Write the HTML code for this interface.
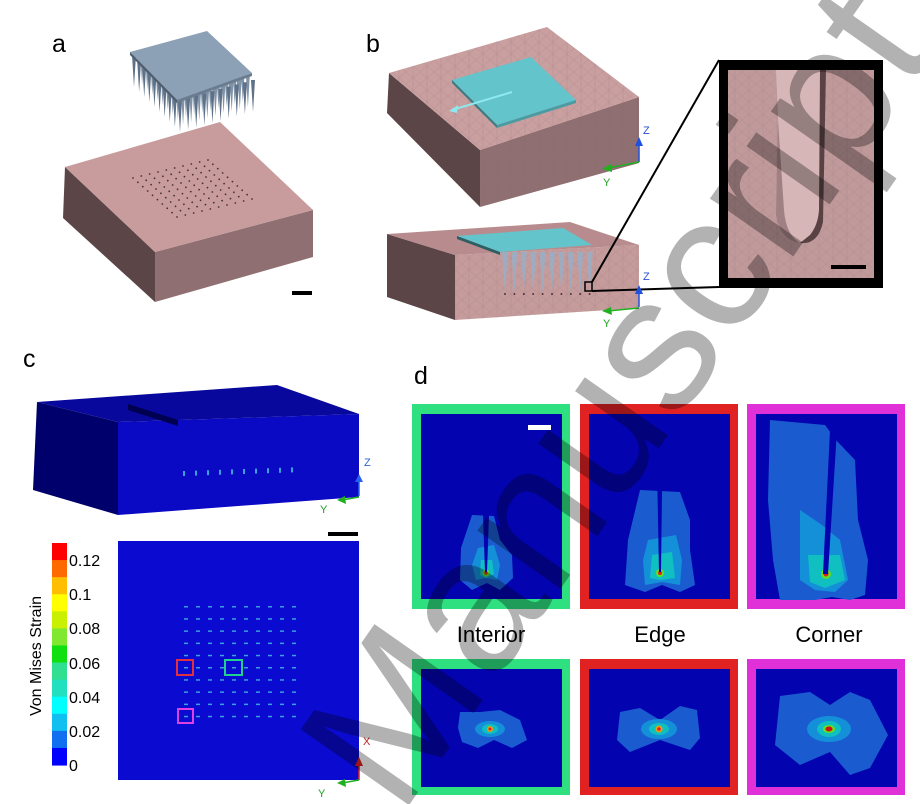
<!DOCTYPE html>
<html><head><meta charset="utf-8"><style>
html,body{margin:0;padding:0;background:#fff;width:920px;height:804px;overflow:hidden}
svg{display:block;overflow:hidden}
text{font-family:"Liberation Sans",sans-serif}
</style></head><body>
<svg id="s" width="920" height="804" viewBox="0 0 920 804" xmlns="http://www.w3.org/2000/svg">
<defs>
<pattern id="mesh" width="14" height="12" patternUnits="userSpaceOnUse">
<path d="M0 0L14 12M14 0L0 12M7 0L7 12" stroke="#8a6a6c" stroke-width="0.3" opacity="0.5"/>
</pattern>
<clipPath id="cl"><rect x="0" y="0" width="920" height="804"/></clipPath>
</defs>
<text x="52" y="52" font-size="25">a</text>
<text x="366" y="52" font-size="25">b</text>
<text x="23" y="367" font-size="25">c</text>
<text x="414" y="384" font-size="25">d</text>

<g id="aneedles"></g>
<polygon points="130,52 207,31 252,73 177,100" fill="#8ca0b6"/>
<polygon points="130,52 177,100 177,103 130,55" fill="#4f5e6e"/>
<polygon points="177,100 252,73 252,76 177,103" fill="#6a7c90"/>
<polygon points="65,167 155,252 155,302 63,218" fill="#5b4547"/>
<polygon points="155,252 313,210 313,257 155,302" fill="#8f6f71"/>
<polygon points="65,167 220,122 313,210 155,252" fill="#c89c9d"/>
<g id="aholes"></g>
<rect x="292" y="291" width="20" height="4" fill="#000"/>

<polygon points="389,73 480,150 480,207 387,113" fill="#5b4547"/>
<polygon points="480,150 639,97 639,163 480,207" fill="#8f6f71"/>
<polygon points="480,150 639,97 639,163 480,207" fill="url(#mesh)"/>
<polygon points="389,73 547,27 639,97 480,150" fill="#c99fa0"/>
<polygon points="389,73 547,27 639,97 480,150" fill="url(#mesh)"/>
<polygon points="452,80 531,57 576,100 497,125" fill="#63c4cc"/>
<polygon points="452,80 497,125 497,128 452,83" fill="#3d7a80"/>
<polygon points="497,125 576,100 576,103 497,128" fill="#4a9ba2"/>
<line x1="512" y1="92" x2="452" y2="110" stroke="#8ee8ee" stroke-width="2"/>
<polygon points="449,111 458,105 457,113" fill="#8ee8ee"/>
<line x1="639" y1="162" x2="639" y2="142" stroke="#2050e0" stroke-width="1.5"/>
<polygon points="635,146 639,137 643,146" fill="#2050e0"/>
<line x1="639" y1="162" x2="608" y2="168" stroke="#20b020" stroke-width="1.5"/>
<polygon points="611,164 602,169 612,172" fill="#20b020"/>
<text x="643" y="134" font-size="11" fill="#2a50d0">Z</text>
<text x="603" y="186" font-size="11" fill="#20a020">Y</text>

<polygon points="387,234 455,255 455,320 387,297" fill="#5b4547"/>
<polygon points="455,255 639,245 639,308 455,320" fill="#c59b9c"/>
<polygon points="455,255 639,245 639,308 455,320" fill="url(#mesh)"/>
<polygon points="387,234 570,222 639,245 455,255" fill="#b88c8e"/>
<polygon points="457,236 563,228 592,245 500,252" fill="#63c4cc"/>
<polygon points="457,236 500,252 500,255 457,239" fill="#2f5e62"/>
<g id="bneedles"></g>
<rect x="585" y="282" width="7" height="9" fill="none" stroke="#000" stroke-width="1.5"/>
<line x1="592" y1="282" x2="719" y2="60" stroke="#000" stroke-width="2"/>
<line x1="592" y1="291" x2="719" y2="287" stroke="#000" stroke-width="2"/>
<line x1="639" y1="307" x2="639" y2="290" stroke="#2050e0" stroke-width="1.5"/>
<polygon points="635,294 639,285 643,294" fill="#2050e0"/>
<line x1="639" y1="308" x2="608" y2="311" stroke="#20b020" stroke-width="1.5"/>
<polygon points="611,307 602,311 612,315" fill="#20b020"/>
<text x="643" y="280" font-size="11" fill="#2a50d0">Z</text>
<text x="603" y="327" font-size="11" fill="#20a020">Y</text>

<rect x="719" y="60" width="164" height="228" fill="#000"/>
<rect x="728" y="70" width="146" height="208" fill="#c09a9b"/>
<rect x="728" y="70" width="146" height="208" fill="url(#mesh)"/>
<path d="M776 70 L824 70 L822 215 Q818 245 800 243 Q784 240 782 215 Z" fill="#d7b6b7"/>
<path d="M820 70 L826 70 L823 222 Q818 245 800 243 L810 235 Q818 225 819 210 Z" fill="#5a4244"/>
<path d="M778 120 L784 210 Q786 235 800 243 Q780 240 776 215 Z" fill="#a08082"/>
<rect x="831" y="265" width="35" height="4" fill="#000"/>

<polygon points="37,402 118,422 118,515 33,490" fill="#00006c"/>
<polygon points="118,422 359,414 359,497 118,515" fill="#0a0ac4"/>
<polygon points="37,402 277,385 359,414 118,422" fill="#08089c"/>
<polygon points="128,404 178,420 178,426 128,410" fill="#000050"/>
<g id="crow"></g>
<line x1="359" y1="496" x2="359" y2="478" stroke="#2a60f0" stroke-width="1.5"/>
<polygon points="355,482 359,474 363,482" fill="#2a60f0"/>
<line x1="359" y1="497" x2="342" y2="500" stroke="#20b020" stroke-width="1.5"/>
<polygon points="345,496 337,500 346,504" fill="#20b020"/>
<text x="364" y="466" font-size="11" fill="#3060d0">Z</text>
<text x="320" y="513" font-size="11" fill="#20a020">Y</text>
<rect x="328" y="532" width="30" height="4" fill="#000"/>

<g id="cbar"></g>
<g font-size="16" fill="#000">
<text x="69" y="566">0.12</text>
<text x="69" y="600">0.1</text>
<text x="69" y="634">0.08</text>
<text x="69" y="669">0.06</text>
<text x="69" y="703">0.04</text>
<text x="69" y="737">0.02</text>
<text x="69" y="771">0</text>
</g>
<text transform="translate(41,656) rotate(-90)" text-anchor="middle" font-size="16">Von Mises Strain</text>

<rect x="118" y="541" width="241" height="239" fill="#0a0ad0"/>
<g id="cgrid"></g>
<rect x="177" y="660" width="16" height="15" fill="none" stroke="#e03040" stroke-width="2"/>
<rect x="225" y="660" width="17" height="15" fill="none" stroke="#20d090" stroke-width="2"/>
<rect x="178" y="709" width="15" height="14" fill="none" stroke="#e040e0" stroke-width="2"/>
<line x1="359" y1="780" x2="359" y2="762" stroke="#e02020" stroke-width="1.5"/>
<polygon points="355,766 359,757 363,766" fill="#e02020"/>
<line x1="359" y1="780" x2="342" y2="783" stroke="#20b020" stroke-width="1.5"/>
<polygon points="345,779 337,783 346,787" fill="#20b020"/>
<text x="363" y="745" font-size="11" fill="#c02020">X</text>
<text x="318" y="797" font-size="11" fill="#20a020">Y</text>

<rect x="412" y="404" width="158" height="205" fill="#2ee080"/>
<rect x="421" y="414" width="141" height="185" fill="#0303b0"/>
<rect x="580" y="404" width="158" height="205" fill="#e02222"/>
<rect x="589" y="414" width="141" height="185" fill="#0303b0"/>
<rect x="747" y="404" width="158" height="205" fill="#e030d8"/>
<rect x="756" y="414" width="141" height="185" fill="#0303b0"/>
<rect x="412" y="659" width="158" height="136" fill="#2ee080"/>
<rect x="421" y="669" width="141" height="118" fill="#0303b0"/>
<rect x="580" y="659" width="158" height="136" fill="#e02222"/>
<rect x="589" y="669" width="141" height="118" fill="#0303b0"/>
<rect x="747" y="659" width="158" height="136" fill="#e030d8"/>
<rect x="756" y="669" width="141" height="118" fill="#0303b0"/>
<rect x="528" y="425" width="23" height="5" fill="#fff"/>

<path d="M472 515 L494 516 L500 540 L512 555 L513 578 L500 590 L487 583 L472 590 L460 580 L461 548 Z" fill="#1a5cd0"/>
<path d="M478 548 L494 545 L500 565 L497 580 L486 578 L476 580 L472 565 Z" fill="#1490d8"/>
<path d="M481 560 L492 560 L494 574 L486 578 L480 575 Z" fill="#10c0c0"/>
<circle cx="486" cy="573" r="3.5" fill="#60e020"/><circle cx="486" cy="573" r="1.6" fill="#e02020"/>
<polygon points="483,515 489,515 487,572 485,572" fill="#0303b0"/>
<path d="M640 490 L680 492 L690 520 L690 550 L695 585 L680 592 L662 585 L645 592 L625 585 L628 540 Z" fill="#1a5cd0"/>
<path d="M648 540 L676 535 L682 560 L680 585 L662 582 L645 585 L643 560 Z" fill="#1490d8"/>
<path d="M652 555 L672 552 L675 578 L660 580 L650 578 Z" fill="#10c0c0"/>
<circle cx="660" cy="573" r="4" fill="#60e020"/><circle cx="660" cy="573" r="2" fill="#e02020"/>
<polygon points="656,414 663,414 661,572 659,572 " fill="#0303b0"/>
<path d="M770 420 L825 425 L836 440 L855 460 L858 520 L868 560 L865 595 L850 600 L832 597 L815 600 L780 600 L773 560 L768 500 Z" fill="#1a5cd0"/>
<path d="M800 510 L822 525 L840 540 L848 580 L835 592 L815 590 L800 580 Z" fill="#1490d8"/>
<path d="M808 555 L840 555 L845 580 L825 588 L810 582 Z" fill="#10c0c0"/>
<circle cx="826" cy="574" r="5" fill="#60e020"/><circle cx="826" cy="574" r="2.5" fill="#e02020"/>
<polygon points="830,430 837,430 828,574 823,574" fill="#0303b0"/>
<path d="M460 712 L480 712 L500 710 L520 720 L527 740 L512 748 L494 740 L478 748 L462 742 L458 728 Z" fill="#1a5cd0"/>
<ellipse cx="490" cy="729" rx="15" ry="8" fill="#1490d8"/><ellipse cx="490" cy="729" rx="8" ry="5" fill="#10c0c0"/>
<circle cx="490" cy="729" r="3" fill="#e8a010"/><circle cx="490" cy="729" r="1.5" fill="#e02020"/>
<path d="M620 712 L640 708 L660 720 L680 706 L697 710 L700 738 L690 750 L660 740 L630 752 L617 740 Z" fill="#1a5cd0"/>
<ellipse cx="659" cy="729" rx="18" ry="10" fill="#1490d8"/><ellipse cx="659" cy="729" rx="10" ry="6" fill="#10c0c0"/>
<circle cx="659" cy="729" r="3.5" fill="#e8a010"/><circle cx="659" cy="729" r="1.8" fill="#e02020"/>
<path d="M780 696 L810 692 L830 705 L850 692 L870 700 L888 735 L870 768 L850 775 L830 752 L800 765 L775 745 Z" fill="#1a5cd0"/>
<ellipse cx="829" cy="729" rx="22" ry="13" fill="#1490d8"/><ellipse cx="829" cy="729" rx="12" ry="8" fill="#10c0c0"/>
<ellipse cx="829" cy="729" rx="6" ry="4" fill="#60e020"/><ellipse cx="829" cy="729" rx="3.5" ry="2.5" fill="#d01010"/>

<g font-size="22" fill="#000" text-anchor="middle">
<text x="491" y="642">Interior</text>
<text x="660" y="642">Edge</text>
<text x="829" y="642">Corner</text>
</g>

<g clip-path="url(#cl)">
<text transform="translate(400,818) rotate(-55)" font-family="Liberation Serif, serif" font-size="192" fill="#000" fill-opacity="0.3">Manuscript</text>
</g>
</svg>
<script>
var NS="http://www.w3.org/2000/svg";
function el(p,t,a){var e=document.createElementNS(NS,t);for(var k in a)e.setAttribute(k,a[k]);document.getElementById(p).appendChild(e);}
for(var i=0;i<10;i++)for(var j=0;j<10;j++){var x=133+i*(46/9)+j*(73/9)+1, y=54+i*(45/9)-j*(20/9)+1;
el("aneedles","polygon",{points:(x-2)+","+y+" "+(x+2)+","+y+" "+x+","+(y+32),fill:(j==0||i==9)?"#5e7186":"#8093a8"});}
for(var i=0;i<10;i++)for(var j=0;j<10;j++){var x=133+i*(44/9)+j*(75/9), y=178+i*(39/9)-j*(18/9);
el("aholes","circle",{cx:x,cy:y,r:0.9,fill:"#4a3436"});}
for(var i=0;i<10;i++){var x=505+i*9.4;el("bneedles","polygon",{points:(x-3)+",252 "+(x+3)+",252 "+x+",293",fill:"#9aaec4",opacity:"0.9"});el("bneedles","circle",{cx:x,cy:294,r:1,fill:"#4a3436"});}
for(var i=0;i<10;i++){el("crow","rect",{x:183+i*12,y:471-i*0.4,width:2,height:5,fill:"#3aa0e0"});}
var cs=["#ff0000","#ff6a00","#ffbf00","#ffff00","#c8f000","#80e830","#10e010","#30e090","#20e0c0","#00ffff","#10c0f0","#1070f0","#0000ff"];
for(var k=0;k<13;k++)el("cbar","rect",{x:52,y:543+k*17.08,width:15,height:17.6,fill:cs[k]});
for(var i=0;i<10;i++)for(var j=0;j<10;j++)el("cgrid","rect",{x:184+i*12,y:606+j*12.2,width:4,height:1.5,fill:"#3aa0e0"});
</script>
</body></html>
